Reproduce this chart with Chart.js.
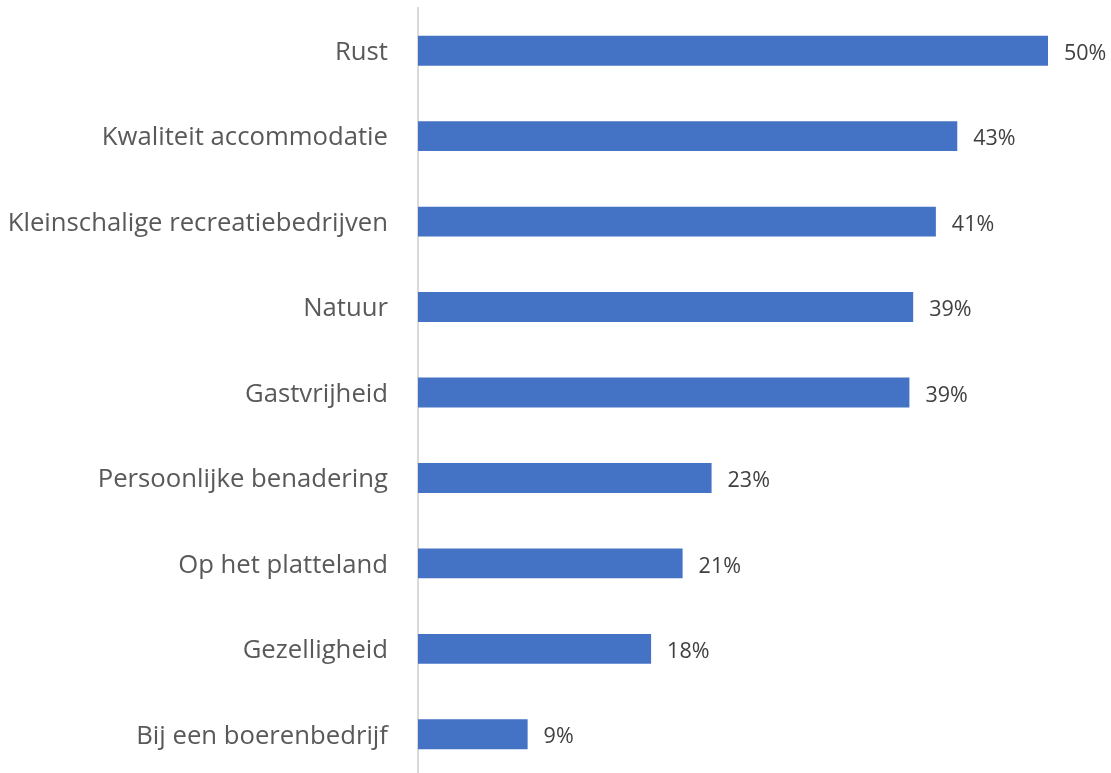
<!DOCTYPE html>
<html><head><meta charset="utf-8">
<script src="https://cdn.jsdelivr.net/npm/chart.js@4.4.1/dist/chart.umd.min.js"></script>
<style>html,body{margin:0;padding:0;background:#fff;overflow:hidden}#wrap{width:1111px;height:777px;position:relative}</style>
</head><body><div id="wrap"><canvas id="c"></canvas></div>
<script>
const categories = ["Rust","Kwaliteit accommodatie","Kleinschalige recreatiebedrijven","Natuur","Gastvrijheid","Persoonlijke benadering","Op het platteland","Gezelligheid","Bij een boerenbedrijf"];
const values = [50, 42.8, 41.1, 39.3, 39.0, 23.3, 21.0, 18.5, 8.7];
const valueLabels = ["50%","43%","41%","39%","39%","23%","21%","18%","9%"];

const labelPlugin = {
  id: 'vals',
  afterDatasetsDraw(chart) {
    const ctx = chart.ctx;
    const meta = chart.getDatasetMeta(0);
    ctx.save();
    ctx.font = '21.5px "Open Sans"';
    ctx.fillStyle = '#404040';
    ctx.textBaseline = 'middle';
    ctx.textAlign = 'left';
    meta.data.forEach((bar, i) => {
      ctx.fillText(valueLabels[i], bar.x + 16, bar.y + 3);
    });
    ctx.restore();
  }
};

new Chart(document.getElementById('c'), {
  type: 'bar',
  data: { labels: categories, datasets: [{ data: values, backgroundColor: '#4472C4', barPercentage: 0.35, categoryPercentage: 1.0 }] },
  options: {
    indexAxis: 'y', responsive: true, maintainAspectRatio: false, animation: false,
    layout: { padding: { top: 8, right: 0, bottom: 0, left: 0 } },
    plugins: { legend: { display: false }, tooltip: { enabled: false } },
    scales: {
      x: { display: false, min: 0, max: 55 },
      y: {
        afterFit(s) { s.width = 418; s.paddingTop = 0; s.paddingBottom = 0; },
        grid: { display: false },
        border: { display: true, color: '#d9d9d9', width: 2 },
        ticks: { color: '#595959', padding: 22, labelOffset: 2, font: { family: '"Open Sans"', size: 25.7 } }
      }
    }
  },
  plugins: [labelPlugin]
});
</script></body></html>
